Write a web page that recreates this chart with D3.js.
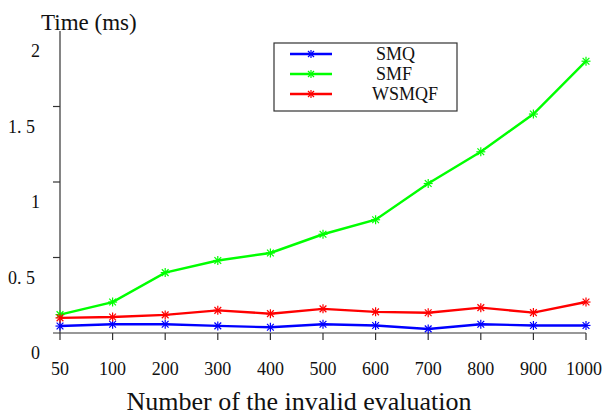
<!DOCTYPE html>
<html>
<head>
<meta charset="utf-8">
<script src="https://cdn.jsdelivr.net/npm/d3@7"></script>
<style>
  body { margin: 0; background: #fff; }
</style>
</head>
<body>
<svg id="chart"></svg>
<script>
const width = 602;
const height = 417;

// data
const categories = ["50", "100", "200", "300", "400", "500", "600", "700", "800", "900", "1000"];
const smq = [0.046, 0.058, 0.058, 0.047, 0.038, 0.058, 0.05, 0.027, 0.058, 0.05, 0.05];
const smf = [0.122, 0.205, 0.40, 0.48, 0.53, 0.654, 0.75, 0.99, 1.20, 1.45, 1.80];
const wsmqf = [0.10, 0.106, 0.12, 0.15, 0.128, 0.16, 0.14, 0.134, 0.168, 0.135, 0.205];
const yTicks = [0, 0.5, 1, 1.5, 2];
const yTickLabels = ["0", "0. 5", "1", "1. 5", "2"];

const series = [
    { name: "SMQ", values: smq, color: "#0000ff" },
    { name: "SMF", values: smf, color: "#00ff00" },
    { name: "WSMQF", values: wsmqf, color: "#ff0000" }
];

const svg = d3.select("#chart")
    .attr("width", width)
    .attr("height", height)
    .attr("font-family", "'Liberation Serif', 'Times New Roman', Times, serif");

const x = d3.scalePoint()
    .domain(categories)
    .range([60, 586]);

const y = d3.scaleLinear()
    .domain([0, 2])
    .range([333, 31]);

// axes drawn by hand to mimic the odd label offsets
const axisColor = "#333";
const textColor = "#111";

svg.append("line")
    .attr("x1", 60).attr("x2", 60)
    .attr("y1", y(2)).attr("y2", y(0))
    .attr("stroke", axisColor).attr("stroke-width", 1.2);

svg.append("line")
    .attr("x1", 53).attr("x2", x("1000"))
    .attr("y1", y(0)).attr("y2", y(0))
    .attr("stroke", axisColor).attr("stroke-width", 1.2);

svg.selectAll(".ytick")
    .data(yTicks.filter(d => d > 0 && d < 2))
    .enter().append("line")
    .attr("x1", 53).attr("x2", 60)
    .attr("y1", d => y(d)).attr("y2", d => y(d))
    .attr("stroke", axisColor).attr("stroke-width", 1.2);

svg.selectAll(".ylabel")
    .data(yTicks)
    .enter().append("text")
    .attr("x", d => Number.isInteger(d) ? 40 : 35)
    .attr("y", d => y(d) + 26)
    .attr("text-anchor", "end")
    .attr("font-size", 18)
    .attr("fill", textColor)
    .text((d, i) => yTickLabels[i]);

svg.selectAll(".xtick")
    .data(categories)
    .enter().append("line")
    .attr("x1", d => x(d)).attr("x2", d => x(d))
    .attr("y1", y(0)).attr("y2", y(0) + 7)
    .attr("stroke", axisColor).attr("stroke-width", 1.2);

svg.selectAll(".xlabel")
    .data(categories)
    .enter().append("text")
    .attr("x", d => x(d) + (d === "1000" ? -2 : 0))
    .attr("y", 375)
    .attr("text-anchor", "middle")
    .attr("font-size", 18)
    .attr("fill", textColor)
    .text(d => d);

svg.append("text")
    .attr("x", 41)
    .attr("y", 30)
    .attr("font-size", 23)
    .attr("fill", textColor)
    .text("Time (ms)");

svg.append("text")
    .attr("x", 299)
    .attr("y", 410)
    .attr("text-anchor", "middle")
    .attr("font-size", 26)
    .attr("fill", textColor)
    .text("Number of the invalid evaluation");

// lines
const line = d3.line()
    .x((d, i) => x(categories[i]))
    .y(d => y(d));

function asterisk(g, cx, cy, color, r) {
    const arms = [[r, 0], [0, r], [r * 0.75, r * 0.75], [r * 0.75, -r * 0.75]];
    arms.forEach(([dx, dy]) => {
        g.append("line")
            .attr("x1", cx - dx).attr("x2", cx + dx)
            .attr("y1", cy - dy).attr("y2", cy + dy)
            .attr("stroke", color).attr("stroke-width", 1.2);
    });
}

series.forEach(s => {
    svg.append("path")
        .datum(s.values)
        .attr("d", line)
        .attr("fill", "none")
        .attr("stroke", s.color)
        .attr("stroke-width", 2.4);
    const g = svg.append("g");
    s.values.forEach((v, i) => asterisk(g, x(categories[i]), y(v), s.color, 4.5));
});

// legend
const legend = svg.append("g");
legend.append("rect")
    .attr("x", 274).attr("y", 43)
    .attr("width", 183).attr("height", 68)
    .attr("fill", "#fff")
    .attr("stroke", "#333").attr("stroke-width", 1.2);

const legendY = [54, 74, 94];
const legendTextX = [376, 376, 372];
series.forEach((s, i) => {
    legend.append("line")
        .attr("x1", 290).attr("x2", 332)
        .attr("y1", legendY[i]).attr("y2", legendY[i])
        .attr("stroke", s.color).attr("stroke-width", 2.4);
    asterisk(legend, 311, legendY[i], s.color, 4);
    legend.append("text")
        .attr("x", legendTextX[i])
        .attr("y", legendY[i] + 6)
        .attr("font-size", 18)
        .attr("fill", textColor)
        .text(s.name);
});
</script>
</body>
</html>
